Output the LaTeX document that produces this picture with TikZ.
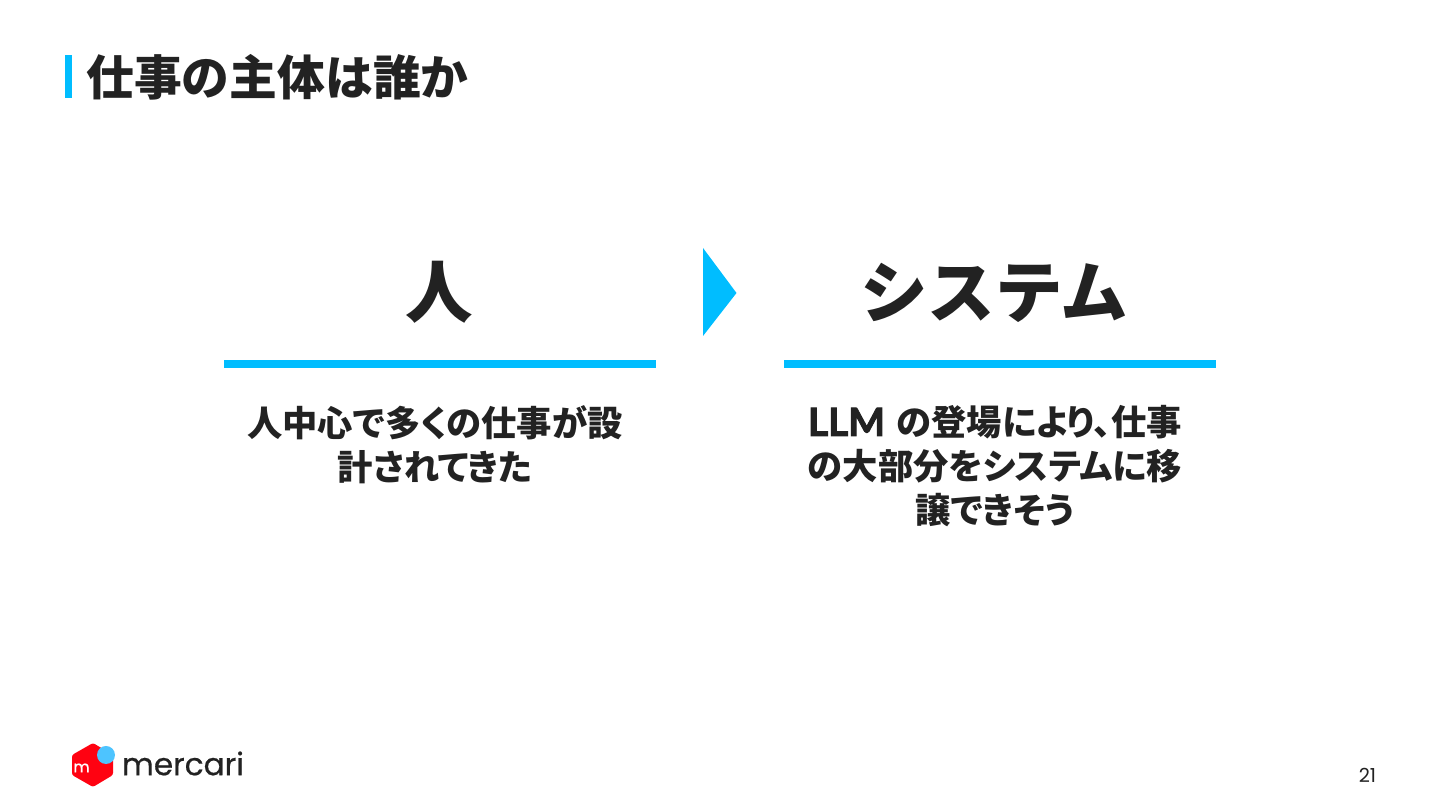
\documentclass[tikz,border=0pt]{standalone}
\usepackage{fontspec}
\setmainfont{Lato}
\newfontfamily\latinfont{Lato}[Scale=1.1,FakeBold=2.5]
\newfontfamily\jpfont{Noto Sans CJK JP}
\newfontfamily\jpprop{Noto Sans CJK JP}[RawFeature=+palt]
\newfontfamily\logofont{Poppins}
\newfontfamily\logoheavy{Poppins}[FakeBold=0.6]
\usepackage{tikz}
\definecolor{skyblue}{HTML}{00BDFF}
\definecolor{inkgray}{HTML}{222222}
\definecolor{logored}{HTML}{FF0211}
\definecolor{logoblue}{HTML}{4DC4FF}
\tikzset{
	headline/.style = {text = inkgray, font = \jpfont\bfseries\fontsize{38.4}{46}\selectfont, inner sep = 0},
	bodytext/.style = {text = inkgray, align = center, inner sep = 0, text width = 9cm,
		font = \jpprop\bfseries\fontsize{20.1}{25}\selectfont},
	rulebar/.style = {fill = skyblue, draw = none}
}
\begin{document}
\begin{tikzpicture}
		\useasboundingbox (0, 0) rectangle (28.8, 16.2);
		\fill [skyblue] (1.3, 15.1) rectangle (1.44, 14.24);
		\node [anchor = west, text = inkgray, inner sep = 0, font = \jpfont\bfseries\fontsize{27.2}{32}\selectfont] (title) at (1.72, 14.66) {仕事の主体は誰か};
		\node [headline] (person) at (8.78, 10.35) {人};
		\node [headline] (system) at (19.88, 10.35) {システム};
		\fill [rulebar] (4.48, 8.84) rectangle (13.12, 9.0);
		\fill [rulebar] (15.68, 8.84) rectangle (24.32, 9.0);
		\fill [skyblue] (14.06, 11.24) -- (14.73, 10.34) -- (14.06, 9.48) -- cycle;
		\node [bodytext] (persontext) at (8.7, 7.3) {人中心で多くの仕事が設\\計されてきた};
		\node [bodytext] (systemtext) at (19.9, 6.87) {{\latinfont LLM} の登場により、仕事\\の大部分をシステムに移\\譲できそう};
		% logo
		\fill [logored, rounded corners = 1.2pt] (1.86, 1.34) -- (2.26, 1.1) -- (2.26, 0.7) -- (1.86, 0.46) -- (1.44, 0.7) -- (1.44, 1.1) -- cycle;
		\fill [logoblue] (2.12, 1.1) circle (0.18);
		\node [text = white, inner sep = 0, font = \logoheavy\fontsize{9}{10}\selectfont] (cube) at (1.63, 0.84) {m};
		\node [anchor = west, text = inkgray, inner sep = 0, font = \logoheavy\fontsize{17.7}{18}\selectfont] (mercari) at (2.43, 0.93) {mercari};
		\node [text = inkgray, inner sep = 0, font = \logofont\fontsize{11}{11}\selectfont] (page) at (27.35, 0.7) {21};
	\end{tikzpicture}
\end{document}
